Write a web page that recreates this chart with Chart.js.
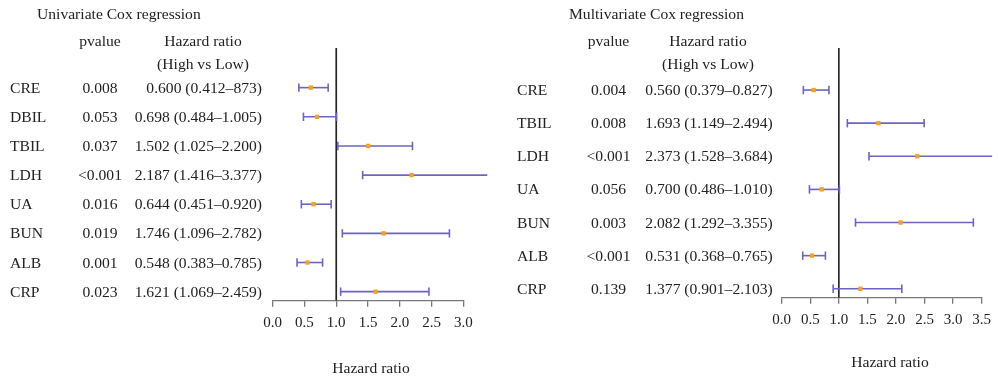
<!DOCTYPE html>
<html>
<head>
<meta charset="utf-8">
<script src="https://cdn.jsdelivr.net/npm/chart.js@4.4.1/dist/chart.umd.min.js"></script>
<style>
  body { margin: 0; background: #fff; }
  .wrap { position: relative; width: 998px; height: 379px; }
  canvas { position: absolute; top: 0; }
</style>
</head>
<body>
<div class="wrap">
  <canvas id="uniChart" width="499" height="379" style="left:0"></canvas>
  <canvas id="multiChart" width="499" height="379" style="left:499px"></canvas>
</div>
<script>
// univariate
const uniVars = ['CRE', 'DBIL', 'TBIL', 'LDH', 'UA', 'BUN', 'ALB', 'CRP']
const uniP = ['0.008', '0.053', '0.037', '<0.001', '0.016', '0.019', '0.001', '0.023']
const uniHR = [0.600, 0.698, 1.502, 2.187, 0.644, 1.746, 0.548, 1.621]
const uniLow = [0.412, 0.484, 1.025, 1.416, 0.451, 1.096, 0.383, 1.069]
const uniHigh = [0.873, 1.005, 2.200, 3.377, 0.920, 2.782, 0.785, 2.459]
const uniText = ['0.600 (0.412–873)', '0.698 (0.484–1.005)', '1.502 (1.025–2.200)', '2.187 (1.416–3.377)',
  '0.644 (0.451–0.920)', '1.746 (1.096–2.782)', '0.548 (0.383–0.785)', '1.621 (1.069–2.459)']
const uniTicks = [0, 0.5, 1, 1.5, 2, 2.5, 3]

// multivariate
const multiVars = ['CRE', 'TBIL', 'LDH', 'UA', 'BUN', 'ALB', 'CRP']
const multiP = ['0.004', '0.008', '<0.001', '0.056', '0.003', '<0.001', '0.139']
const multiHR = [0.560, 1.693, 2.373, 0.700, 2.082, 0.531, 1.377]
const multiLow = [0.379, 1.149, 1.528, 0.486, 1.292, 0.368, 0.901]
const multiHigh = [0.827, 2.494, 3.684, 1.010, 3.355, 0.765, 2.103]
const multiText = ['0.560 (0.379–0.827)', '1.693 (1.149–2.494)', '2.373 (1.528–3.684)', '0.700 (0.486–1.010)',
  '2.082 (1.292–3.355)', '0.531 (0.368–0.765)', '1.377 (0.901–2.103)']
const multiTicks = [0, 0.5, 1, 1.5, 2, 2.5, 3, 3.5]

const FONT = "'Liberation Serif', 'Times New Roman', serif"
Chart.defaults.font.family = FONT
Chart.defaults.font.size = 15
Chart.defaults.color = '#222'

const purple = '#6c63c6'
const orange = '#f5a31c'

// draws the table text next to the forest plot
const tablePlugin = {
  id: 'table',
  afterDraw(chart, args, o) {
    const ctx = chart.ctx
    const y = chart.scales.y
    ctx.save()
    ctx.fillStyle = '#222'
    ctx.font = '15.6px ' + FONT
    ctx.textBaseline = 'alphabetic'
    ctx.textAlign = 'left'
    ctx.fillText(o.title, o.titleX, 18.5)
    ctx.textAlign = 'center'
    ctx.fillText('pvalue', o.pX, 46)
    ctx.fillText('Hazard ratio', o.hrX, 46)
    ctx.fillText('(High vs Low)', o.hrX, 68.5)
    o.vars.forEach((v, i) => {
      const py = y.getPixelForValue(i + 1) + 5
      ctx.textAlign = 'left'
      ctx.fillText(v, o.varX, py)
      ctx.textAlign = 'center'
      ctx.fillText(o.p[i], o.pX, py)
      ctx.textAlign = 'right'
      ctx.fillText(o.text[i], o.hrRight, py)
    })
    ctx.textAlign = 'center'
    ctx.fillText('Hazard ratio', o.xTitleX, o.xTitleY)
    ctx.restore()
  }
}

function forest(id, vars, hr, lo, hi, ticks, xmax, ymin, ymax, padLeft, padRight, axisH, table) {
  const bars = vars.map((v, i) => ({
    type: 'line',
    data: [{x: lo[i], y: i + 1}, {x: hi[i], y: i + 1}],
    borderColor: purple,
    borderWidth: 1.6,
    pointStyle: 'line',
    rotation: 90,
    pointRadius: 4.2,
    pointBorderWidth: 1.6,
    pointBorderColor: purple,
    clip: false,
    order: 1
  }))
  return new Chart(document.getElementById(id), {
    type: 'scatter',
    data: {
      datasets: [
        {
          data: hr.map((h, i) => ({x: h, y: i + 1})),
          pointStyle: 'rect',
          pointRadius: 3.1,
          backgroundColor: orange,
          borderWidth: 0,
          clip: false,
          order: 0
        },
        ...bars,
        {
          type: 'line',
          data: [{x: 1, y: ymin}, {x: 1, y: ymax}],
          borderColor: '#262626',
          borderWidth: 1.7,
          pointRadius: 0,
          order: 2
        }
      ]
    },
    options: {
      responsive: false,
      animation: false,
      devicePixelRatio: 1,
      layout: {padding: {left: padLeft, right: padRight, top: 48, bottom: 0}},
      plugins: {legend: {display: false}, tooltip: {enabled: false}, table: table},
      scales: {
        x: {
          type: 'linear',
          min: 0,
          max: xmax,
          afterBuildTicks: s => { s.ticks = ticks.map(t => ({value: t})) },
          afterFit: s => { s.height = axisH },
          ticks: {callback: v => v.toFixed(1), padding: 7, color: '#222', font: {size: 15}},
          grid: {drawOnChartArea: false, tickLength: 6, color: '#777', lineWidth: 1.3},
          border: {color: '#777', width: 1.3}
        },
        y: {
          type: 'linear',
          display: false,
          reverse: true,
          min: ymin,
          max: ymax
        }
      }
    },
    plugins: [tablePlugin]
  })
}

forest('uniChart', uniVars, uniHR, uniLow, uniHigh, uniTicks, 3, -0.36, 8.31, 272.7, 35.7, 78.3, {
  title: 'Univariate Cox regression', titleX: 37, vars: uniVars, p: uniP, text: uniText,
  varX: 10, pX: 100, hrX: 203, hrRight: 262, xTitleX: 371, xTitleY: 372.5
})

forest('multiChart', multiVars, multiHR, multiLow, multiHigh, multiTicks, 3.5, -0.27, 7.27, 282.7, 16.3, 81.3, {
  title: 'Multivariate Cox regression', titleX: 70, vars: multiVars, p: multiP, text: multiText,
  varX: 18, pX: 109.5, hrX: 209, hrRight: 273.7, xTitleX: 391, xTitleY: 366.5
})
</script>
</body>
</html>
